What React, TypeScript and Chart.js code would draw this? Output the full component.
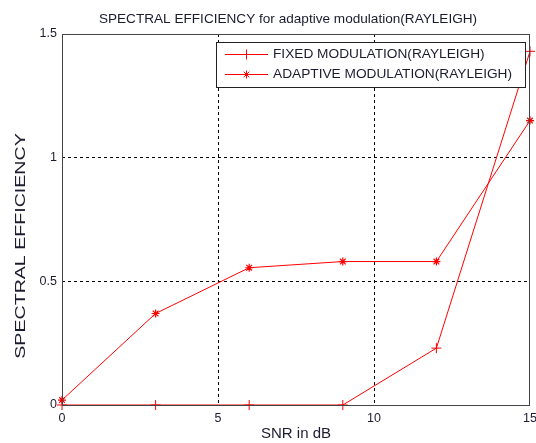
import React, { useEffect, useRef } from 'react';
import { Chart, registerables } from 'chart.js';

Chart.register(...registerables);

const snrDb = [0, 3, 6, 9, 12, 15];
const fixedSE = [0, 0, 0, 0, 0.23, 1.43];
const adaptiveSE = [0.02, 0.37, 0.555, 0.58, 0.58, 1.15];
const xTicks = [0, 5, 10, 15];
const yTicks = [0, 0.5, 1, 1.5];
const seriesLabels = ['FIXED MODULATION(RAYLEIGH)', 'ADAPTIVE MODULATION(RAYLEIGH)'];
const chartTitle = 'SPECTRAL EFFICIENCY for adaptive modulation(RAYLEIGH)';
const xTitle = 'SNR in dB';
const yTitle = 'SPECTRAL EFFICIENCY';

const FONT = "'Liberation Sans', Arial, sans-serif";
const TEXT = '#1c1c30';
const RED = '#ff0000';

const textPlugin = {
  id: 'matlabText',
  afterDraw(chart: any) {
    const { ctx, chartArea: a } = chart;
    ctx.save();
    ctx.fillStyle = TEXT;
    ctx.textAlign = 'center';
    ctx.textBaseline = 'middle';
    // title centred over the axes
    ctx.font = `13.6px ${FONT}`;
    ctx.fillText(chartTitle, (a.left + a.right) / 2 - 8, 19);
    // y axis title, rotated and stretched along its length
    ctx.translate(21, 246);
    ctx.rotate(-Math.PI / 2);
    ctx.scale(1.4, 1.05);
    ctx.font = `14px ${FONT}`;
    ctx.fillText(yTitle, 0, 0);
    ctx.restore();
  },
};

const boxPlugin = {
  id: 'matlabBox',
  afterDraw(chart: any) {
    const { ctx, chartArea: a } = chart;
    ctx.save();
    ctx.strokeStyle = '#444';
    ctx.lineWidth = 1;
    ctx.setLineDash([]);
    ctx.strokeRect(Math.round(a.left) + 0.5, Math.round(a.top) + 0.5, Math.round(a.right - a.left) - 1, Math.round(a.bottom - a.top));
    ctx.restore();
  },
};

const legendPlugin = {
  id: 'matlabLegend',
  afterDraw(chart: any) {
    const { ctx, chartArea: a } = chart;
    const w = 309;
    const h = 45;
    const x = a.right - w - 5;
    const y = a.top + 8;
    ctx.save();
    ctx.fillStyle = '#fff';
    ctx.fillRect(x, y, w, h);
    ctx.strokeStyle = '#222';
    ctx.lineWidth = 1;
    ctx.strokeRect(Math.round(x) + 0.5, Math.round(y) + 0.5, w, h);
    chart.data.datasets.forEach((ds: any, i: number) => {
      const ly = Math.round(y + 12 + i * 20) + 0.5;
      const lx0 = x + 9;
      const lx1 = x + 52;
      const mx = (lx0 + lx1) / 2;
      ctx.strokeStyle = RED;
      ctx.lineWidth = 1;
      ctx.beginPath();
      ctx.moveTo(lx0, ly);
      ctx.lineTo(lx1, ly);
      ctx.stroke();
      const r = ds.pointRadius;
      ctx.beginPath();
      ctx.moveTo(mx, ly - r);
      ctx.lineTo(mx, ly + r);
      if (ds.pointStyle === 'star') {
        ctx.moveTo(mx - r, ly);
        ctx.lineTo(mx + r, ly);
        const d = r * 0.7;
        ctx.moveTo(mx - d, ly - d);
        ctx.lineTo(mx + d, ly + d);
        ctx.moveTo(mx - d, ly + d);
        ctx.lineTo(mx + d, ly - d);
      }
      ctx.stroke();
      ctx.fillStyle = TEXT;
      ctx.font = `13.7px ${FONT}`;
      ctx.textBaseline = 'middle';
      ctx.textAlign = 'left';
      ctx.fillText(ds.label, x + 57, ly);
    });
    ctx.restore();
  },
};

export default function App() {
  const ref = useRef<HTMLCanvasElement>(null);

  useEffect(() => {
    document.body.style.margin = '0';
    const canvas = ref.current;
    if (!canvas) return;
    const gridColor = (c: any) => {
      const v = c.tick?.value;
      return v === c.scale.min || v === c.scale.max ? 'rgba(0,0,0,0)' : '#000';
    };
    const chart = new Chart(canvas, {
      type: 'scatter',
      data: {
        datasets: [
          {
            label: seriesLabels[0],
            data: snrDb.map((x, i) => ({ x, y: fixedSE[i] })),
            showLine: true,
            borderColor: RED,
            backgroundColor: RED,
            borderWidth: 1,
            pointStyle: 'cross',
            pointRadius: 5,
            pointBorderWidth: 1,
            pointBorderColor: RED,
            clip: false as any,
          },
          {
            label: seriesLabels[1],
            data: snrDb.map((x, i) => ({ x, y: adaptiveSE[i] })),
            showLine: true,
            borderColor: RED,
            backgroundColor: RED,
            borderWidth: 1,
            pointStyle: 'star',
            pointRadius: 4,
            pointBorderWidth: 1.2,
            pointBorderColor: RED,
            clip: false as any,
          },
        ],
      },
      options: {
        animation: false,
        responsive: false,
        maintainAspectRatio: false,
        events: [],
        layout: { padding: { left: 0, right: 3, top: 34, bottom: 0 } },
        plugins: {
          legend: { display: false },
          tooltip: { enabled: false },
          title: { display: false },
        },
        scales: {
          x: {
            type: 'linear',
            min: 0,
            max: 15,
            afterBuildTicks: (s: any) => {
              s.ticks = xTicks.map((v) => ({ value: v }));
            },
            afterFit: (s: any) => {
              s.height = 38;
              s.paddingLeft = 0;
              s.paddingRight = 0;
            },
            grid: { color: gridColor, drawTicks: false, lineWidth: 1 },
            border: { display: false, dash: [3, 3] },
            ticks: {
              color: TEXT,
              font: { family: FONT, size: 12.5 },
              padding: 6,
              maxRotation: 0,
              callback: (v: any) => String(v),
            },
            title: {
              display: true,
              text: xTitle,
              color: TEXT,
              font: { family: FONT, size: 15 },
              padding: { top: 0, bottom: 0 },
            },
          },
          y: {
            type: 'linear',
            min: 0,
            max: 1.5,
            afterBuildTicks: (s: any) => {
              s.ticks = yTicks.map((v) => ({ value: v }));
            },
            afterFit: (s: any) => {
              s.width = 62;
              s.paddingTop = 0;
              s.paddingBottom = 0;
            },
            grid: { color: gridColor, drawTicks: false, lineWidth: 1 },
            border: { display: false, dash: [3, 3] },
            ticks: {
              color: TEXT,
              font: { family: FONT, size: 12.5 },
              padding: 5,
              callback: (v: any) => String(v),
            },
            title: { display: false },
          },
        },
      },
      plugins: [boxPlugin, legendPlugin, textPlugin],
    } as any);
    return () => chart.destroy();
  }, []);

  return (
    <div style={{ position: 'absolute', left: 0, top: 0, width: 536, height: 443, background: '#fff' }}>
      <canvas ref={ref} width={536} height={443} style={{ display: 'block' }} />
    </div>
  );
}
